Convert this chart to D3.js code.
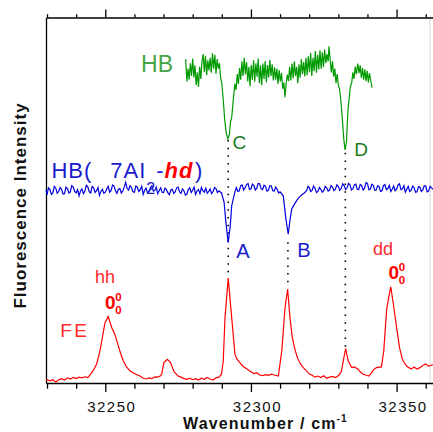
<!DOCTYPE html>
<html>
<head>
<meta charset="utf-8">
<script src="https://cdn.jsdelivr.net/npm/d3@7"></script>
<style>
  body { margin: 0; background: #fff; }
  svg { display: block; font-family: "Liberation Sans", Arial, sans-serif; }
</style>
</head>
<body>
<div id="chart"></div>
<script>
// wavenumber (cm-1), intensity (arb. units, traces offset on a common 0-100 scale)
const feTrace = [
  [32229.7,0.8],[32230,0.9],[32231,0.6],[32232,0.9],[32233,0.3],[32234,0.9],[32235,1.2],[32236,0.8],
  [32237,1.4],[32238,1.1],[32239,1.5],[32240,1.2],[32241,1.6],[32242,1.4],[32243,1.7],[32244,1.5],
  [32244.8,2.2],[32246,3.6],[32247,5.1],[32248,8.2],[32248.8,11.5],[32249.9,16.5],[32251,18.2],
  [32252.2,15.2],[32253.3,13.3],[32254.5,10.1],[32255.3,8.0],[32256.2,6.0],[32257.3,4.4],[32258.5,3.3],
  [32259.5,2.8],[32260.5,2.4],[32261.9,1.9],[32263,1.3],[32264,1.1],[32265,1.4],[32266,1.2],[32267,1.7],
  [32268,1.6],[32269,2.0],[32269.4,2.5],[32270.1,5.6],[32271.3,6.5],[32272.4,5.6],[32273.6,3.1],
  [32275,1.9],[32276,1.6],[32277,1.2],[32278,1.0],[32279,1.3],[32280,0.9],[32281,1.2],[32282,0.8],
  [32283,1.3],[32284,1.0],[32285,1.5],[32286,1.1],[32287,0.8],[32288,1.4],[32289,1.6],[32289.9,2.4],
  [32290.5,6.0],[32291.1,17.9],[32292.2,28.7],[32293.4,17.9],[32294.5,7.9],[32295.2,6.5],[32296.2,5.6],
  [32297,4.8],[32298,4.2],[32299,3.6],[32300,3.1],[32301,2.6],[32302,2.8],[32303,2.2],[32304,2.0],
  [32305,2.3],[32306,2.1],[32307,2.4],[32308,2.2],[32309.4,1.9],[32310.6,8.8],[32311.7,20.6],
  [32312.6,25.7],[32313.4,17.9],[32314.2,12.5],[32315.1,9.2],[32316,6.8],[32317,5.2],[32318,4.2],
  [32319,3.3],[32320,2.5],[32321,2.1],[32322,1.6],[32323,1.9],[32324,1.5],[32325,2.0],[32326,1.3],
  [32327,1.6],[32328,1.8],[32329,1.5],[32330,2.0],[32331,3.0],[32331.7,6.0],[32332.5,9.4],[32333.4,6.0],
  [32334.6,4.2],[32335.5,4.4],[32336.8,3.8],[32337.6,3.0],[32338.5,2.4],[32339.4,2.2],[32340.5,1.9],
  [32341.5,2.9],[32342.3,3.8],[32343.1,4.2],[32344.8,4.4],[32345.6,8.8],[32346.6,20.2],[32347.5,24.3],
  [32348,26.3],[32349,21.0],[32350,15.2],[32351,9.7],[32352,6.5],[32352.6,5.6],[32353.5,4.6],
  [32355,3.8],[32356,4.4],[32357,3.8],[32358,4.2],[32359,4.8],[32360,5.2],[32361,4.6],[32362.5,5.0]
];

const hbDopedTrace = [
  [32229.7,52.8],[32230,51.5],[32230.5,53.4],[32231,52.9],[32231.5,51.6],[32232,52.0],[32232.5,53.8],
  [32233,53.3],[32233.5,51.9],[32234,52.4],[32234.5,53.5],[32235,53.0],[32235.5,51.7],[32236,51.8],
  [32236.5,53.6],[32237,53.2],[32237.5,52.0],[32238,52.3],[32238.5,54.0],[32239,53.6],[32239.5,52.4],
  [32240,52.0],[32240.5,52.9],[32241,51.2],[32241.5,52.6],[32242,53.1],[32242.5,51.8],[32243,52.5],
  [32243.5,54.1],[32244,53.7],[32244.5,52.3],[32245,52.0],[32245.5,53.8],[32246,53.4],[32246.5,52.1],
  [32247,52.6],[32247.5,53.5],[32248,51.3],[32248.5,52.4],[32249,53.0],[32249.5,51.9],[32250,52.2],
  [32250.5,53.1],[32251,53.8],[32251.5,52.2],[32252,52.7],[32252.5,54.2],[32253,53.9],[32253.5,52.6],
  [32254,51.9],[32254.5,53.0],[32255,53.2],[32255.5,52.0],[32256,52.5],[32256.5,53.6],[32257,54.9],
  [32257.5,53.2],[32258,52.8],[32258.5,54.0],[32259,53.5],[32259.5,52.3],[32260,52.2],[32260.5,53.9],
  [32261,53.6],[32261.5,52.4],[32262,52.9],[32262.5,53.8],[32263,51.6],[32263.5,52.7],[32264,53.3],
  [32264.5,52.0],[32265,52.4],[32265.5,53.5],[32266,53.9],[32266.5,52.5],[32267,52.7],[32267.5,53.6],
  [32268,51.8],[32268.5,52.6],[32269,53.4],[32269.5,52.2],[32270,52.1],[32270.5,53.3],[32271,52.9],
  [32271.5,52.0],[32272,51.5],[32272.5,52.8],[32273,53.0],[32273.5,51.9],[32274,52.3],[32274.5,53.4],
  [32275,53.6],[32275.5,52.3],[32276,51.9],[32276.5,53.1],[32277,52.6],[32277.5,51.4],[32278,51.7],
  [32278.5,52.9],[32279,53.4],[32279.5,52.1],[32280,52.8],[32280.5,53.6],[32281,51.6],[32281.5,52.5],
  [32282,52.9],[32282.5,51.8],[32283,53.5],[32283.5,52.6],[32284,52.2],[32284.5,53.3],[32285,51.9],
  [32285.5,52.4],[32286,53.1],[32286.5,51.8],[32287,52.4],[32287.5,53.5],[32288,53.2],[32288.5,52.1],
  [32289,52.6],[32289.9,52.0],[32290.8,49.4],[32291.4,44.0],[32292.2,38.4],[32292.9,43.0],
  [32293.4,48.5],[32294.5,52.3],[32295,53.5],[32295.5,52.4],[32296,52.6],[32296.5,54.0],[32297,54.2],
  [32297.5,52.8],[32298,53.4],[32298.5,54.3],[32299,54.6],[32299.5,53.0],[32300,53.1],[32300.5,54.4],
  [32301,54.0],[32301.5,52.8],[32302,53.3],[32302.5,54.6],[32303,54.5],[32303.5,53.1],[32304,52.9],
  [32304.5,54.1],[32305,53.8],[32305.5,52.5],[32306,52.7],[32306.5,54.0],[32307,53.9],[32307.5,52.6],
  [32308,52.5],[32308.5,53.6],[32309,53.0],[32309.5,52.0],[32310,52.3],[32311.1,51.2],[32312,44.9],
  [32312.8,40.7],[32313.4,44.5],[32314,47.6],[32315,49.0],[32315.7,49.9],[32316.5,50.8],[32317.5,51.5],
  [32318.3,52.0],[32319.1,52.6],[32319.6,53.8],[32320,53.5],[32320.5,52.4],[32321,52.7],[32321.5,53.9],
  [32322,53.3],[32322.5,52.1],[32323,52.4],[32323.5,53.5],[32324,53.0],[32324.5,52.2],[32325,52.6],
  [32325.5,53.8],[32326,53.4],[32326.5,52.5],[32327,52.8],[32327.5,54.0],[32328,53.6],[32328.5,52.6],
  [32329,53.0],[32329.5,54.2],[32330,53.8],[32330.5,52.7],[32331,53.2],[32331.5,54.5],[32332,54.0],
  [32332.5,52.9],[32333,53.4],[32333.5,54.6],[32334,54.2],[32334.5,52.8],[32335,53.1],[32335.5,54.2],
  [32336,54.4],[32336.5,53.0],[32337,52.9],[32337.5,54.3],[32338,54.0],[32338.5,52.8],[32339,53.3],
  [32339.5,54.8],[32340,54.6],[32340.5,52.9],[32341,53.0],[32341.5,54.4],[32342,54.1],[32342.5,52.7],
  [32343,52.8],[32343.5,54.0],[32344,53.7],[32344.5,52.4],[32345,52.6],[32345.5,54.0],[32346,54.3],
  [32346.5,52.9],[32347,53.2],[32347.5,54.1],[32348,52.4],[32348.5,53.0],[32349,53.9],[32349.5,52.6],
  [32350,53.0],[32350.5,54.2],[32351,54.5],[32351.5,52.9],[32352,53.1],[32352.5,54.0],[32353,52.2],
  [32353.5,53.0],[32354,53.8],[32354.5,52.4],[32355,52.7],[32355.5,53.9],[32356,53.5],[32356.5,52.2],
  [32357,52.3],[32357.5,53.7],[32358,53.6],[32358.5,52.4],[32359,52.8],[32359.5,54.0],[32360,53.9],
  [32360.5,52.3],[32361,52.5],[32361.5,53.8],[32362,53.4],[32362.5,53.0]
];

const hbTrace = [
  [32277.6,88.6],[32278.0,82.5],[32278.4,86.0],[32278.8,83.0],[32279.2,87.5],[32279.6,84.0],
  [32280.0,88.8],[32280.4,83.6],[32280.8,86.9],[32281.2,81.5],[32281.6,85.0],[32282.0,81.0],
  [32282.4,86.5],[32282.8,83.2],[32283.2,88.0],[32283.6,90.0],[32284.0,85.0],[32284.4,89.5],
  [32284.8,84.2],[32285.2,88.3],[32285.6,85.5],[32286.0,89.0],[32286.4,84.9],[32286.8,90.2],
  [32287.2,86.0],[32287.6,89.8],[32288.0,84.6],[32288.4,88.6],[32288.8,86.0],[32289.2,87.5],
  [32289.6,83.5],[32290.0,82.0],[32290.5,77.5],[32291.0,72.0],[32291.5,68.5],[32292.1,66.8],
  [32292.6,68.0],[32293.0,71.5],[32293.4,72.6],[32294.0,78.0],[32294.5,81.9],[32294.9,80.2],
  [32295.3,84.5],[32295.7,81.8],[32296.1,86.2],[32296.5,83.0],[32296.9,88.0],[32297.3,84.0],
  [32297.7,89.0],[32298.1,84.5],[32298.5,87.8],[32298.9,82.5],[32299.3,86.5],[32299.7,81.2],
  [32300.1,87.0],[32300.5,83.0],[32300.9,88.3],[32301.3,82.4],[32301.7,87.5],[32302.1,83.8],
  [32302.5,88.8],[32302.9,82.0],[32303.3,86.9],[32303.7,81.5],[32304.1,87.4],[32304.5,83.2],
  [32304.9,88.1],[32305.3,82.2],[32305.7,87.0],[32306.1,83.6],[32306.5,88.4],[32306.9,84.0],
  [32307.3,87.2],[32307.7,82.8],[32308.1,86.4],[32308.5,83.0],[32308.9,86.0],[32309.3,81.8],
  [32309.7,85.6],[32310.1,82.5],[32310.5,84.8],[32310.9,80.5],[32311.3,82.2],[32311.7,78.2],
  [32312.1,82.0],[32312.5,84.4],[32312.9,82.6],[32313.3,86.5],[32313.7,82.8],[32314.1,87.4],
  [32314.5,83.4],[32314.9,88.0],[32315.3,84.0],[32315.7,86.5],[32316.1,82.0],[32316.5,87.2],
  [32316.9,83.5],[32317.3,88.6],[32317.7,84.5],[32318.1,87.8],[32318.5,83.9],[32318.9,89.0],
  [32319.3,84.2],[32319.7,89.4],[32320.1,85.0],[32320.5,90.3],[32320.9,84.0],[32321.3,89.0],
  [32321.7,85.3],[32322.1,90.8],[32322.5,84.9],[32322.9,89.8],[32323.3,85.8],[32323.7,91.0],
  [32324.1,86.0],[32324.5,90.5],[32324.9,86.5],[32325.3,91.2],[32325.7,87.5],[32326.1,90.0],
  [32326.5,88.0],[32326.8,92.1],[32327.2,88.5],[32327.6,85.0],[32328.0,88.0],[32328.4,83.8],
  [32328.8,86.0],[32329.2,82.0],[32329.6,84.5],[32330.0,81.5],[32330.4,80.5],[32330.9,77.0],
  [32331.4,72.0],[32331.9,66.5],[32332.3,63.8],[32332.8,66.0],[32333.3,74.6],[32333.8,78.5],
  [32334.1,81.0],[32334.6,82.2],[32335.0,85.0],[32335.4,83.2],[32335.8,86.6],[32336.2,84.5],
  [32336.7,87.4],[32337.1,84.8],[32337.5,86.9],[32337.9,83.5],[32338.3,86.2],[32338.7,83.0],
  [32339.1,85.8],[32339.5,82.6],[32339.9,85.4],[32340.3,82.2],[32340.7,84.8],[32341.1,82.8],
  [32341.6,80.8]
];

const majorTicks = [32250, 32300, 32350];
const minorTicks = [32230, 32240, 32260, 32270, 32280, 32290, 32310, 32320, 32330, 32340, 32360];

// dotted guides: wavenumber, upper and lower intensity
const guides = [
  { wn: 32292.2, top: 66.5, bottom: 29.5 },
  { wn: 32312.7, top: 38.5, bottom: 26 },
  { wn: 32332.4, top: 63, bottom: 9.8 }
];

const width = 433;
const height = 432;
const margin = { top: 17.5, right: 0, bottom: 49, left: 46 };

const svg = d3.select('#chart')
  .append('svg')
  .attr('width', width)
  .attr('height', height);

const x = d3.scaleLinear()
  .domain([32229.65, 32362.5])
  .range([margin.left, width - margin.right]);

const y = d3.scaleLinear()
  .domain([0, 100])
  .range([height - margin.bottom, margin.top]);

const bottomY = height - margin.bottom;

// faint right frame
svg.append('line')
  .attr('x1', 430).attr('x2', 430)
  .attr('y1', margin.top).attr('y2', bottomY)
  .attr('stroke', '#d8d8d8').attr('stroke-width', 1);

// bottom axis
const gBottom = svg.append('g').attr('transform', `translate(0,${bottomY})`);
gBottom.call(d3.axisBottom(x).tickValues(minorTicks).tickSize(5.7).tickSizeOuter(0).tickFormat(''));
gBottom.append('g').call(d3.axisBottom(x).tickValues(majorTicks).tickSize(9).tickSizeOuter(0).tickFormat(d3.format('d')))
  .call(g => g.select('.domain').remove());
gBottom.selectAll('path, line').attr('stroke', '#000').attr('stroke-width', 1.3);
gBottom.selectAll('text')
  .attr('y', 29).attr('dy', 0).attr('dx', 6)
  .attr('font-size', 15).attr('letter-spacing', 1.5)
  .attr('font-family', '"Liberation Sans", Arial, sans-serif')
  .attr('fill', '#111');

// top axis
const gTop = svg.append('g').attr('transform', `translate(0,${margin.top})`);
gTop.call(d3.axisTop(x).tickValues(minorTicks).tickSize(3.3).tickSizeOuter(0).tickFormat(''));
gTop.append('g').call(d3.axisTop(x).tickValues(majorTicks).tickSize(8).tickSizeOuter(0).tickFormat(''))
  .call(g => g.select('.domain').remove());
gTop.selectAll('path, line').attr('stroke', '#000').attr('stroke-width', 1.3);

// left axis (no ticks)
svg.append('g')
  .attr('transform', `translate(${margin.left},0)`)
  .call(d3.axisLeft(y).tickValues([]).tickSizeOuter(0))
  .selectAll('path').attr('stroke', '#000').attr('stroke-width', 1.3);

// dotted guides
svg.selectAll('.guide')
  .data(guides)
  .enter().append('line')
  .attr('class', 'guide')
  .attr('x1', d => x(d.wn)).attr('x2', d => x(d.wn))
  .attr('y1', d => y(d.top)).attr('y2', d => y(d.bottom))
  .attr('stroke', '#000')
  .attr('stroke-width', 1.6)
  .attr('stroke-dasharray', '1.5,6.2');

const line = d3.line()
  .x(d => x(d[0]))
  .y(d => y(d[1]));

svg.append('path').datum(feTrace)
  .attr('fill', 'none').attr('stroke', '#ff0000').attr('stroke-width', 1.2).attr('d', line);
svg.append('path').datum(hbDopedTrace)
  .attr('fill', 'none').attr('stroke', '#0000dd').attr('stroke-width', 1.2).attr('d', line);
svg.append('path').datum(hbTrace)
  .attr('fill', 'none').attr('stroke', '#009a00').attr('stroke-width', 1.2).attr('d', line);

// annotations
function label(wn, v, txt, color, size, extra) {
  const t = svg.append('text')
    .attr('x', x(wn)).attr('y', y(v))
    .attr('fill', color)
    .attr('font-size', size)
    .text(txt);
  if (extra) extra(t);
  return t;
}

label(32262.3, 85.0, 'HB', '#44a444', 23);
label(32293.7, 64.0, 'C', '#1d7d1d', 19);
label(32335.5, 62.2, 'D', '#1d7d1d', 19);
label(32295.0, 34.3, 'A', '#1a1acc', 20);
label(32315.9, 34.6, 'B', '#1a1acc', 20);
label(32341.9, 35.0, 'dd', '#ff2a2a', 18);
label(32246.5, 27.3, 'hh', '#ff2a2a', 18);
label(32234.5, 12.6, 'FE', '#ff2a2a', 19, t => t.attr('letter-spacing', 2.5));

// 0 with super/sub 0
function origin(wn, v) {
  const px = x(wn), py = y(v);
  svg.append('text').attr('x', px).attr('y', py)
    .attr('fill', '#ff0000').attr('font-size', 19).attr('font-weight', 'bold').text('0');
  svg.append('text').attr('x', px + 10.2).attr('y', py - 8.3)
    .attr('fill', '#ff0000').attr('font-size', 11.5).attr('font-weight', 'bold').text('0');
  svg.append('text').attr('x', px + 10.2).attr('y', py + 5)
    .attr('fill', '#ff0000').attr('font-size', 11.5).attr('font-weight', 'bold').text('0');
}
origin(32347.2, 28.4);
origin(32249.9, 20.2);

// HB( 7AI2-hd )
const hbText = svg.append('text')
  .attr('x', x(32231.5)).attr('y', y(56.2))
  .attr('font-size', 22)
  .attr('letter-spacing', 1)
  .attr('fill', '#1a1acc');
hbText.append('tspan').text('HB(');
hbText.append('tspan').attr('dx', 18).text('7AI');
hbText.append('tspan').attr('font-size', 16).attr('dy', 16.5).text('2');
hbText.append('tspan').attr('dy', -16.5).text('-');
hbText.append('tspan').attr('fill', '#ff0000').attr('font-weight', 'bold').attr('font-style', 'italic').text('hd');
hbText.append('tspan').attr('dx', 1.5).text(')');

// axis titles
svg.append('text')
  .attr('transform', 'translate(25.5,205.5) rotate(-90)')
  .attr('text-anchor', 'middle')
  .attr('font-size', 17)
  .attr('font-weight', 'bold')
  .attr('letter-spacing', 1)
  .attr('fill', '#111')
  .text('Fluorescence Intensity');

const xTitle = svg.append('text')
  .attr('x', 183).attr('y', 429)
  .attr('font-size', 16)
  .attr('font-weight', 'bold')
  .attr('letter-spacing', 1.15)
  .attr('fill', '#111');
xTitle.append('tspan').text('Wavenumber / cm');
xTitle.append('tspan').attr('font-size', 10).attr('dy', -7).text('-1');
</script>
</body>
</html>
